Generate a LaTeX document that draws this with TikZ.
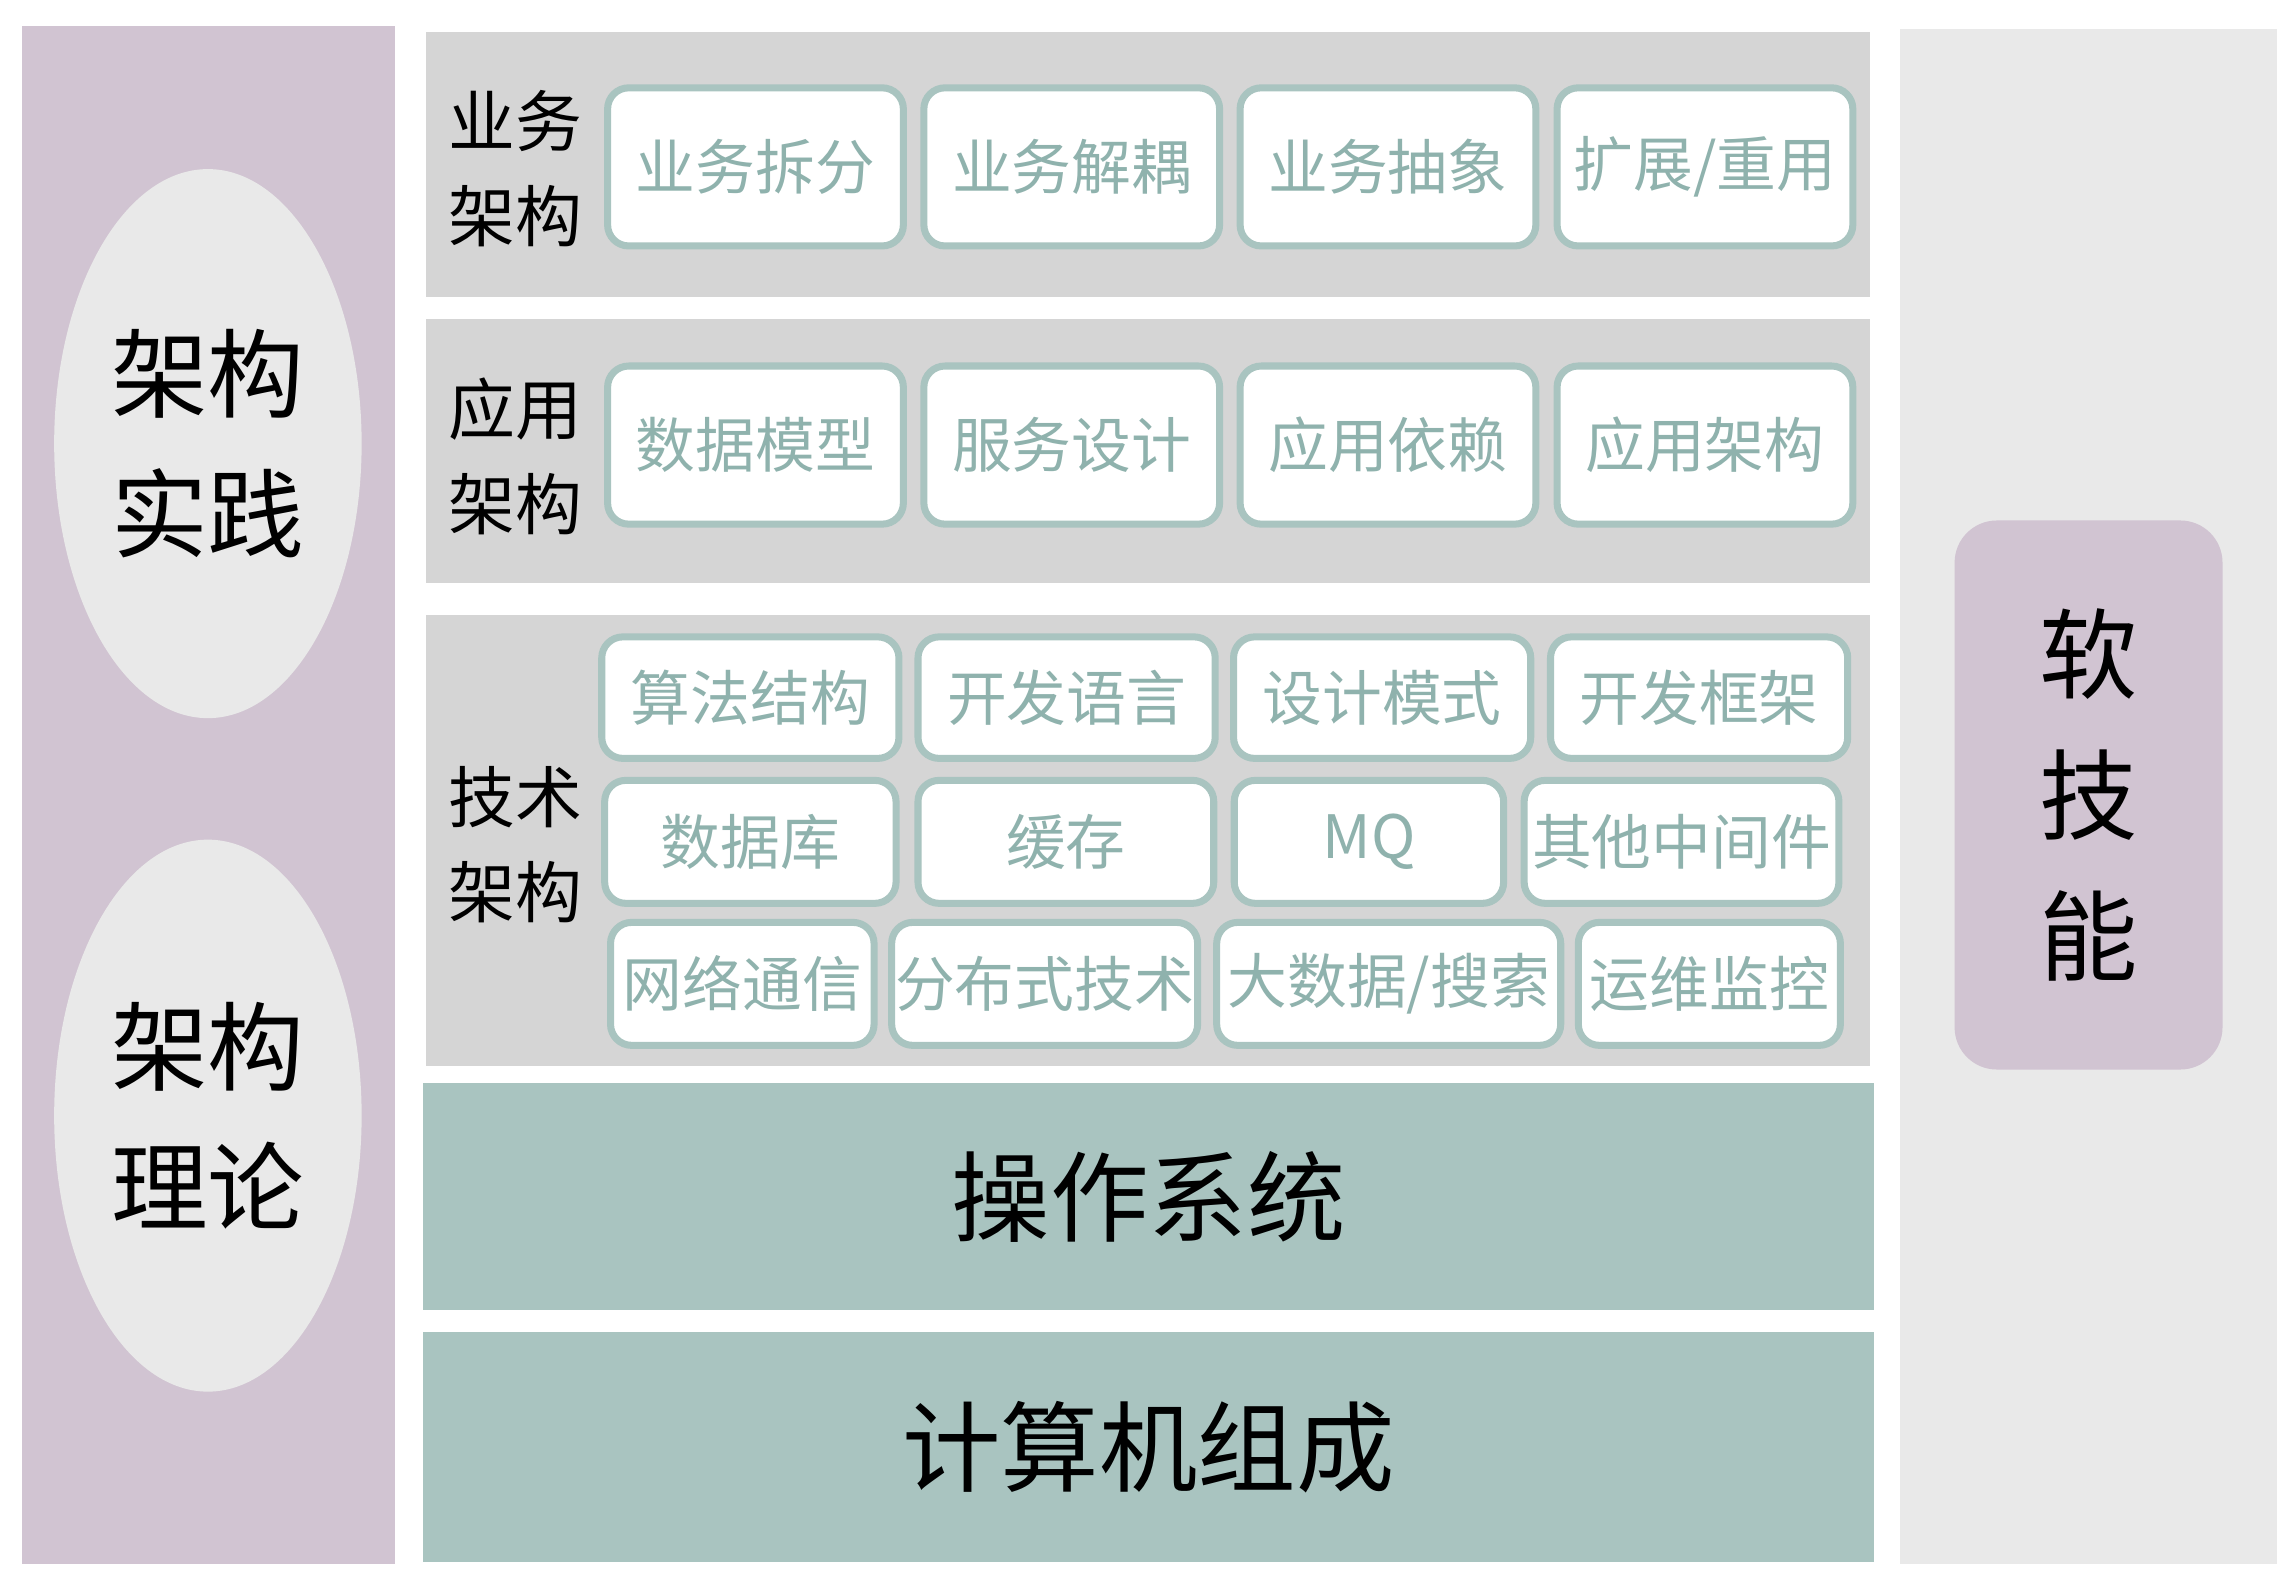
\documentclass[tikz,border=0pt]{standalone}
\usepackage{fontspec}
\setmainfont{Noto Sans CJK SC}
\usetikzlibrary{positioning,shapes.geometric}

\definecolor{mauve}{HTML}{D1C4D2}
\definecolor{panelgray}{HTML}{D5D5D5}
\definecolor{lightgray}{HTML}{E9E9E9}
\definecolor{sage}{HTML}{A9C4C0}
\definecolor{sagetext}{HTML}{8FB2AD}

\newcommand{\dpx}{0.01464cm}

\begin{document}
\begin{tikzpicture}[x=0.01464cm, y=-0.01464cm,
    card/.style={draw=sage, line width=2pt, fill=white, rounded corners=6pt,
        text=sagetext, font=\fontsize{17}{19}\selectfont, inner sep=0pt},
    rowlabel/.style={align=center, font=\fontsize{19}{27}\selectfont},
    bigtext/.style={align=center, font=\fontsize{27.5}{40}\selectfont}]
    \useasboundingbox (0,0) rectangle (1560,1079);

    % side panels
    \fill[mauve] (15,18) rectangle (270,1068);
    \fill[lightgray] (1298,20) rectangle (1555,1068);

    % theory and practice
    \node[ellipse, fill=lightgray, minimum width=210*\dpx, minimum height=375*\dpx, bigtext] (practice) at (142,303) {架构\\实践};
    \node[ellipse, fill=lightgray, minimum width=210*\dpx, minimum height=377*\dpx, bigtext] (theory) at (142,762) {架构\\理论};

    % soft skills
    \node[fill=mauve, rounded corners=12pt, minimum width=183*\dpx, minimum height=375*\dpx,
        align=center, font=\fontsize{28}{40}\selectfont] (soft) at (1426.5,543) {软\\技\\能};

    % architecture layers
    \fill[panelgray] (291,22) rectangle (1277,203);
    \fill[panelgray] (291,218) rectangle (1277,398);
    \fill[panelgray] (291,420) rectangle (1277,728);

    \node[rowlabel] (business) at (352,115) {业务\\架构};
    \node[rowlabel] (application) at (352,312) {应用\\架构};
    \node[rowlabel] (technology) at (352,577) {技术\\架构};

    % business cards
    \foreach \name/\x/\txt in {b1/516/业务拆分, b2/732/业务解耦, b3/948/业务抽象, b4/1164.5/{扩展/重用}}
        \node[card, minimum width=202*\dpx, minimum height=108*\dpx] (\name) at (\x,114) {\txt};

    % application cards
    \foreach \name/\x/\txt in {a1/516/数据模型, a2/732/服务设计, a3/948/应用依赖, a4/1164.5/应用架构}
        \node[card, minimum width=202*\dpx, minimum height=108*\dpx] (\name) at (\x,304) {\txt};

    % technology cards
    \foreach \name/\x/\w/\txt in {t1/512.5/203/算法结构, t2/728.5/203/开发语言, t3/944/203/设计模式, t4/1160.5/203/开发框架}
        \node[card, minimum width=\w*\dpx, minimum height=83*\dpx] (\name) at (\x,476.5) {\txt};
    \foreach \name/\x/\w/\txt in {t5/512.5/199/数据库, t6/728/202/缓存, t7/935/184/MQ, t8/1148.5/215/其他中间件}
        \node[card, minimum width=\w*\dpx, minimum height=84*\dpx] (\name) at (\x,575) {\txt};
    \foreach \name/\x/\w/\txt in {t9/507/180/网络通信, t10/713.5/209/分布式技术, t11/948.5/235/{大数据/搜索}, t12/1167.5/179/运维监控}
        \node[card, minimum width=\w*\dpx, minimum height=84*\dpx] (\name) at (\x,672) {\txt};

    % foundations
    \node[fill=sage, minimum width=991*\dpx, minimum height=155*\dpx,
        font=\fontsize{28}{30}\selectfont] (os) at (784.5,817.5) {操作系统};
    \node[fill=sage, minimum width=991*\dpx, minimum height=157*\dpx,
        font=\fontsize{28}{30}\selectfont] (hw) at (784.5,988.5) {计算机组成};
\end{tikzpicture}
\end{document}
